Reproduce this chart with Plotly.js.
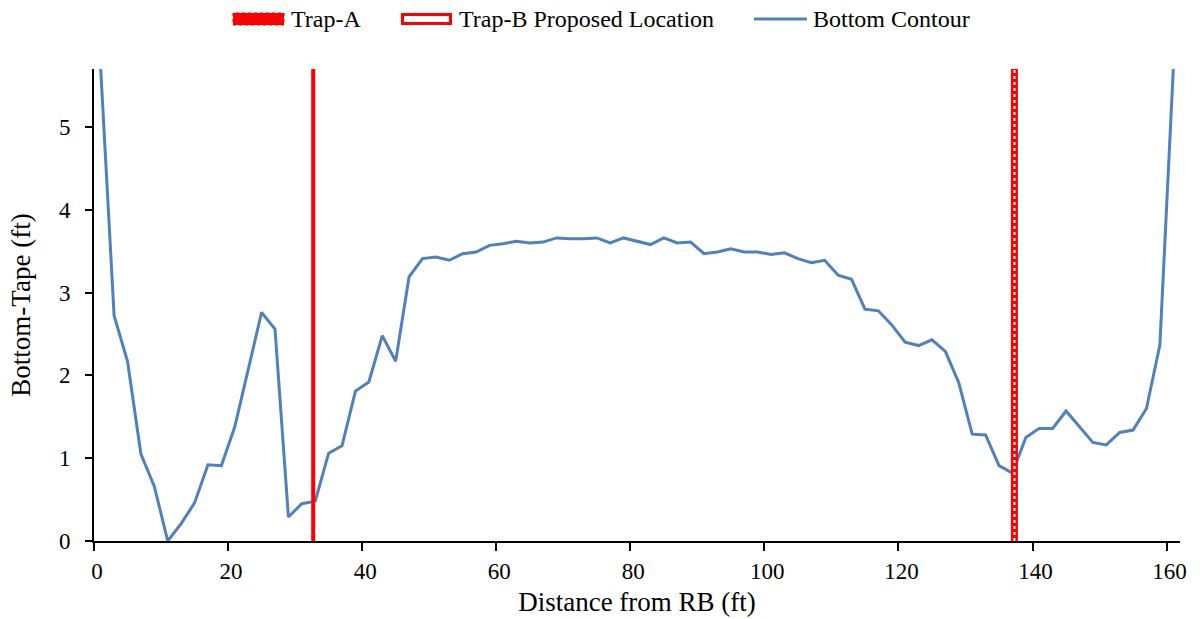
<!DOCTYPE html>
<html>
<head>
<meta charset="utf-8">
<script src="https://cdn.plot.ly/plotly-3.0.1.min.js"></script>
<style>
  html, body { margin: 0; padding: 0; background: #ffffff; }
  #chart { width: 1204px; height: 619px; }
</style>
</head>
<body>
<div id="chart"></div>
<script>
// ---- Data ----
const distanceFt = [
  1, 3, 5, 7, 9, 11, 13, 15, 17, 19,
  21, 23, 25, 27, 29, 31, 33, 35, 37, 39,
  41, 43, 45, 47, 49, 51, 53, 55, 57, 59,
  61, 63, 65, 67, 69, 71, 73, 75, 77, 79,
  81, 83, 85, 87, 89, 91, 93, 95, 97, 99,
  101, 103, 105, 107, 109, 111, 113, 115, 117, 119,
  121, 123, 125, 127, 129, 131, 133, 135, 137, 139,
  141, 143, 145, 147, 149, 151, 153, 155, 157, 159, 161
];
const bottomTapeFt = [
  5.70, 2.72, 2.17, 1.05, 0.66, 0.00, 0.21, 0.46, 0.92, 0.91,
  1.38, 2.07, 2.76, 2.56, 0.29, 0.45, 0.48, 1.06, 1.15, 1.81,
  1.92, 2.48, 2.17, 3.19, 3.41, 3.43, 3.39, 3.47, 3.49, 3.57,
  3.59, 3.62, 3.60, 3.61, 3.66, 3.65, 3.65, 3.66, 3.60, 3.66,
  3.62, 3.58, 3.66, 3.60, 3.61, 3.47, 3.49, 3.53, 3.49, 3.49,
  3.46, 3.48, 3.41, 3.36, 3.39, 3.21, 3.16, 2.80, 2.78, 2.61,
  2.40, 2.36, 2.43, 2.29, 1.91, 1.29, 1.28, 0.91, 0.82, 1.25,
  1.36, 1.36, 1.57, 1.38, 1.19, 1.16, 1.31, 1.34, 1.60, 2.37, 5.70
];
const trapAX = [32.7, 32.7];
const trapAY = [0, 5.7];
const trapBX = [137.3, 137.3];
const trapBY = [0, 5.7];
const seriesNames = ["Trap-A", "Trap-B Proposed Location", "Bottom Contour"];
const xTickVals = [0, 20, 40, 60, 80, 100, 120, 140, 160];
const yTickVals = [0, 1, 2, 3, 4, 5];

// ---- Layout constants ----
const W = 1204, H = 619;
const M = { l: 94, r: 24, t: 69, b: 78 };
const PW = W - M.l - M.r, PH = H - M.t - M.b;
const px = x => (x - M.l) / PW;
const py = y => (H - M.b - y) / PH;
const FONT = '"Liberation Serif", "Times New Roman", serif';
const RED = '#FF0000', BLUE = '#4F81BD';

const traces = [
  {
    x: distanceFt, y: bottomTapeFt, type: 'scatter', mode: 'lines',
    name: seriesNames[2], line: { color: BLUE, width: 3 }, showlegend: false,
    hoverinfo: 'x+y'
  },
  {
    x: trapAX, y: trapAY, type: 'scatter', mode: 'lines',
    name: seriesNames[0], line: { color: RED, width: 4 }, showlegend: false
  },
  {
    x: trapBX, y: trapBY, type: 'scatter', mode: 'lines',
    name: seriesNames[1], line: { color: RED, width: 7 }, showlegend: false
  },
  {
    x: trapBX, y: trapBY, type: 'scatter', mode: 'lines',
    name: seriesNames[1], line: { color: '#FFFFFF', width: 2, dash: '3px,3px' },
    showlegend: false, hoverinfo: 'skip'
  }
];

// custom legend (matches the reference's symbol styles)
const legY = 19;
const shapes = [
  { type: 'rect', xref: 'paper', yref: 'paper', x0: px(233), x1: px(284), y0: py(25), y1: py(13),
    fillcolor: RED, line: { color: '#E00000', width: 1, dash: 'dot' } },
  { type: 'rect', xref: 'paper', yref: 'paper', x0: px(402.5), x1: px(450.5), y0: py(23.5), y1: py(14.5),
    fillcolor: '#FFFFFF', line: { color: RED, width: 3 } },
  { type: 'line', xref: 'paper', yref: 'paper', x0: px(754), x1: px(807), y0: py(legY), y1: py(legY),
    line: { color: BLUE, width: 3 } }
];
const legendText = [
  { text: seriesNames[0], x: 289 },
  { text: seriesNames[1], x: 457 },
  { text: seriesNames[2], x: 811 }
];
const annotations = legendText.map(o => ({
  text: o.text, xref: 'paper', yref: 'paper', x: px(o.x), y: py(legY),
  xanchor: 'left', yanchor: 'middle', showarrow: false,
  font: { family: FONT, size: 24, color: '#000000' }
}));

const layout = {
  width: W, height: H,
  margin: M,
  paper_bgcolor: '#FFFFFF', plot_bgcolor: '#FFFFFF',
  font: { family: FONT, size: 23, color: '#000000' },
  showlegend: false,
  xaxis: {
    range: [0, 162], tickvals: xTickVals, ticktext: xTickVals.map(String),
    showgrid: false, zeroline: false, showline: true, linecolor: '#000000', linewidth: 2,
    ticks: 'outside', ticklen: 8, tickwidth: 2, tickcolor: '#000000',
    tickfont: { family: FONT, size: 23, color: '#000000' },
    ticklabelshift: 3,
    title: { text: 'Distance from RB (ft)', font: { family: FONT, size: 27, color: '#000000' }, standoff: 10 },
    automargin: false
  },
  yaxis: {
    range: [0, 5.7], tickvals: yTickVals, ticktext: yTickVals.map(String),
    showgrid: false, zeroline: false, showline: true, linecolor: '#000000', linewidth: 2,
    ticks: 'outside', ticklen: 7, tickwidth: 2, tickcolor: '#000000',
    tickfont: { family: FONT, size: 23, color: '#000000' },
    ticklabelstandoff: 10,
    title: { text: 'Bottom-Tape (ft)', font: { family: FONT, size: 27, color: '#000000' }, standoff: 20 },
    automargin: false
  },
  shapes: shapes,
  annotations: annotations
};

Plotly.newPlot('chart', traces, layout, { displayModeBar: false, staticPlot: true });
</script>
</body>
</html>
